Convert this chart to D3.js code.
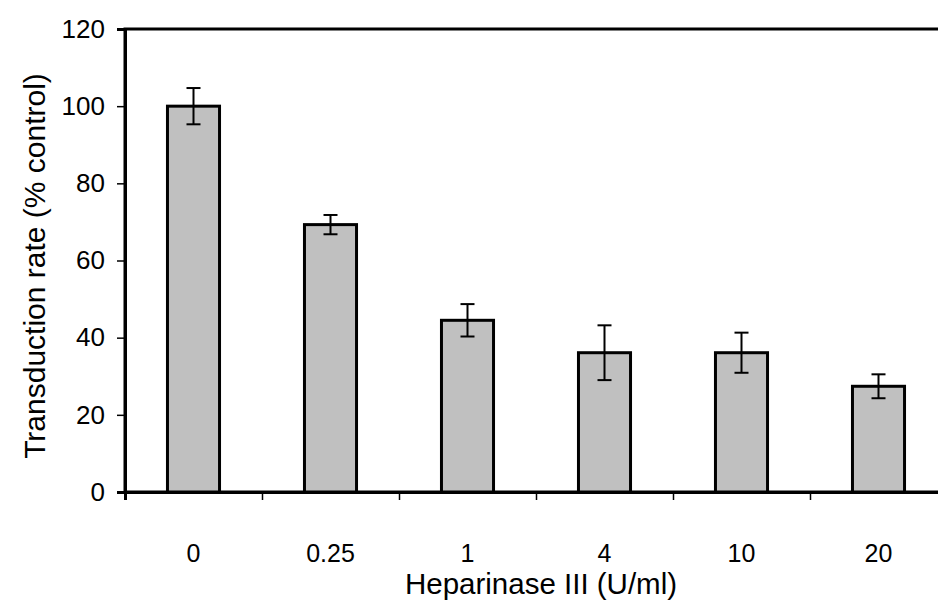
<!DOCTYPE html>
<html><head><meta charset="utf-8">
<script src="https://cdn.jsdelivr.net/npm/d3@7"></script>
<style>
html,body{margin:0;padding:0;background:#fff;}
svg{display:block;}
text{font-family:"Liberation Sans",Arial,sans-serif;fill:#000;}
</style></head>
<body><svg id="c" width="938" height="603"></svg>
<script>
const categories = ["0","0.25","1","4","10","20"];
const values = [100, 69.3, 44.5, 36.1, 36.1, 27.4];
const errors = [4.7, 2.5, 4.2, 7.1, 5.2, 3.1];
const yTicks = [0,20,40,60,80,100,120];
const xTitle = "Heparinase III (U/ml)";
const yTitle = "Transduction rate (% control)";

const svg = d3.select("#c");
const L = 125, R = 947, T = 29, B = 492;

const x = d3.scaleBand().domain(categories).range([L, R]).paddingInner(0.62).paddingOuter(0.31);
const xEdge = d3.scaleLinear().domain([0, categories.length]).range([L, R]);
const y = d3.scaleLinear().domain([0, 120]).range([B, T]);

svg.append("rect").attr("x", L).attr("y", T).attr("width", R - L).attr("height", B - T)
  .attr("fill", "none").attr("stroke", "#000").attr("stroke-width", 3);

svg.selectAll("rect.bar").data(values).enter().append("rect").attr("class", "bar")
  .attr("x", (d, i) => x(categories[i]))
  .attr("y", d => y(d))
  .attr("width", x.bandwidth())
  .attr("height", d => B - y(d))
  .attr("fill", "#c0c0c0").attr("stroke", "#000").attr("stroke-width", 3);

const cap = 7;
const eg = svg.append("g").attr("stroke", "#000").attr("stroke-width", 2);
values.forEach((v, i) => {
  const cx = x(categories[i]) + x.bandwidth() / 2;
  eg.append("line").attr("x1", cx).attr("x2", cx).attr("y1", y(v + errors[i])).attr("y2", y(v - errors[i]));
  eg.append("line").attr("x1", cx - cap).attr("x2", cx + cap).attr("y1", y(v + errors[i])).attr("y2", y(v + errors[i]));
  eg.append("line").attr("x1", cx - cap).attr("x2", cx + cap).attr("y1", y(v - errors[i])).attr("y2", y(v - errors[i]));
});

const yAxis = svg.append("g").attr("transform", `translate(${L},0)`)
  .call(d3.axisLeft(y).tickValues(yTicks).tickSize(8).tickPadding(12));
yAxis.select(".domain").attr("stroke-width", 3);
yAxis.selectAll(".tick line").attr("stroke-width", 1.5);
yAxis.selectAll("text").attr("font-size", 26).style("font-family", '"Liberation Sans",Arial,sans-serif');

const xAxisE = svg.append("g").attr("transform", `translate(0,${B})`)
  .call(d3.axisBottom(xEdge).tickValues(d3.range(categories.length + 1)).tickSize(8).tickFormat(""));
xAxisE.select(".domain").attr("stroke-width", 3);
xAxisE.selectAll(".tick line").attr("stroke-width", 1.5);

const xAxisC = svg.append("g").attr("transform", `translate(0,${B})`)
  .call(d3.axisBottom(x).tickSize(0).tickPadding(0));
xAxisC.select(".domain").remove();
xAxisC.selectAll("text").attr("dy", null).attr("y", 70).attr("font-size", 25)
  .style("font-family", '"Liberation Sans",Arial,sans-serif');

svg.append("text").attr("x", 541).attr("y", 594).attr("text-anchor", "middle")
  .attr("font-size", 29.5).text(xTitle);
svg.append("text").attr("transform", `translate(45,266) rotate(-90)`)
  .attr("text-anchor", "middle").attr("font-size", 30).text(yTitle);
</script></body></html>
